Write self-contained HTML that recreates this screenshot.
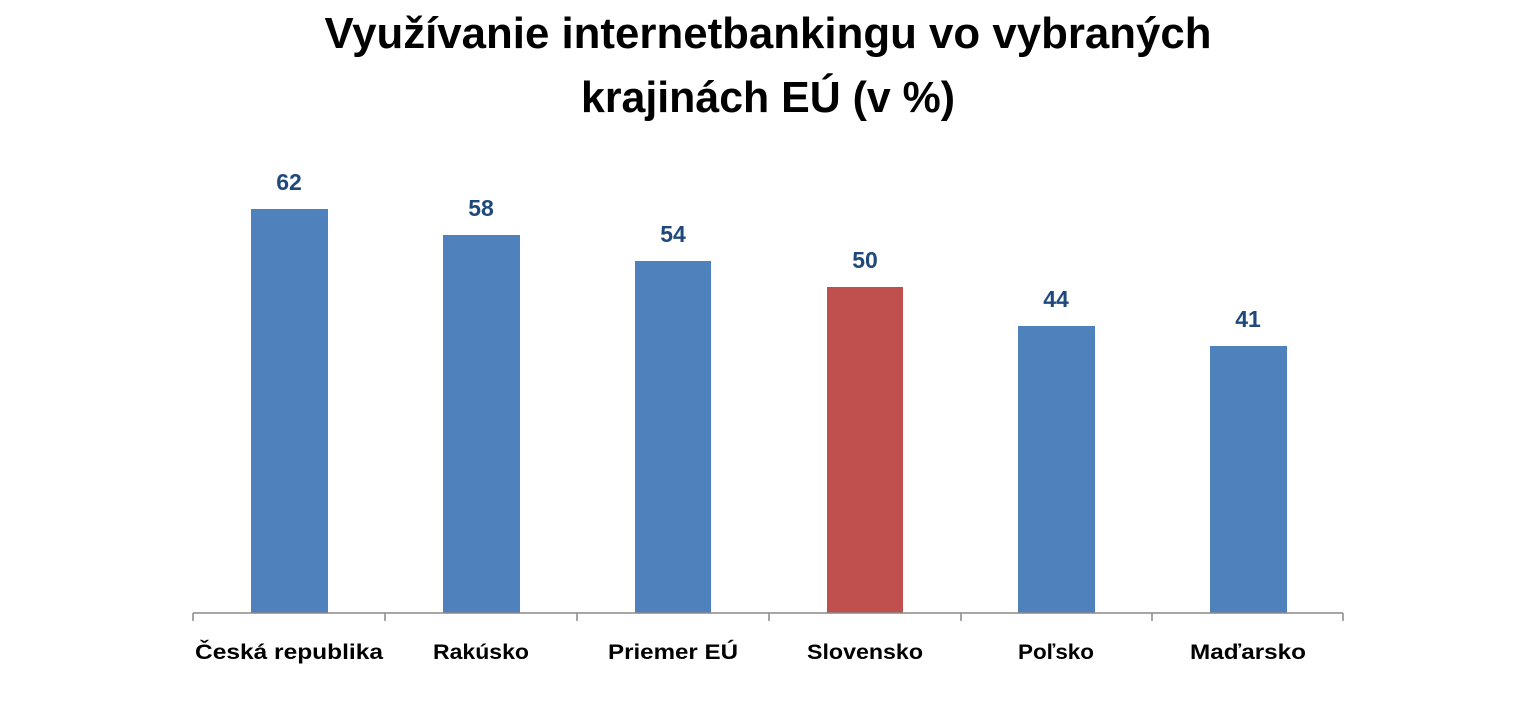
<!DOCTYPE html>
<html><head><meta charset="utf-8"><style>
html,body{margin:0;padding:0;background:#fff;}
svg{display:block;font-family:"Liberation Sans",sans-serif;font-weight:bold;}
</style></head><body>
<svg width="1540" height="708" viewBox="0 0 1540 708">
<rect width="1540" height="708" fill="#fff"/>
<text x="768" y="48" font-size="44" text-anchor="middle" textLength="887" lengthAdjust="spacingAndGlyphs">Využívanie internetbankingu vo vybraných</text>
<text x="768" y="112" font-size="44" text-anchor="middle" textLength="374" lengthAdjust="spacingAndGlyphs">krajinách EÚ (v %)</text>
<g fill="#4F81BD">
<rect x="251" y="209" width="77" height="404"/>
<rect x="443" y="235" width="77" height="378"/>
<rect x="635" y="261" width="76" height="352"/>
<rect x="1018" y="326" width="77" height="287"/>
<rect x="1210" y="346" width="77" height="267"/>
</g>
<rect x="827" y="287" width="76" height="326" fill="#C0504D"/>
<g stroke="#888" stroke-width="1.5">
<line x1="193" y1="613" x2="1343" y2="613"/>
<line x1="193" y1="613" x2="193" y2="621"/>
<line x1="385" y1="613" x2="385" y2="621"/>
<line x1="577" y1="613" x2="577" y2="621"/>
<line x1="769" y1="613" x2="769" y2="621"/>
<line x1="961" y1="613" x2="961" y2="621"/>
<line x1="1152" y1="613" x2="1152" y2="621"/>
<line x1="1343" y1="613" x2="1343" y2="621"/>
</g>
<g fill="#1F497D" font-size="23" text-anchor="middle">
<text x="289" y="190">62</text>
<text x="481" y="216">58</text>
<text x="673" y="242">54</text>
<text x="865" y="268">50</text>
<text x="1056" y="307">44</text>
<text x="1248" y="327">41</text>
</g>
<g fill="#000" font-size="21" text-anchor="middle">
<text x="289" y="659" textLength="188" lengthAdjust="spacingAndGlyphs">Česká republika</text>
<text x="481" y="659" textLength="96" lengthAdjust="spacingAndGlyphs">Rakúsko</text>
<text x="673" y="659" textLength="130" lengthAdjust="spacingAndGlyphs">Priemer EÚ</text>
<text x="865" y="659" textLength="116" lengthAdjust="spacingAndGlyphs">Slovensko</text>
<text x="1056" y="659" textLength="76" lengthAdjust="spacingAndGlyphs">Poľsko</text>
<text x="1248" y="659" textLength="116" lengthAdjust="spacingAndGlyphs">Maďarsko</text>
</g>
</svg>
</body></html>
